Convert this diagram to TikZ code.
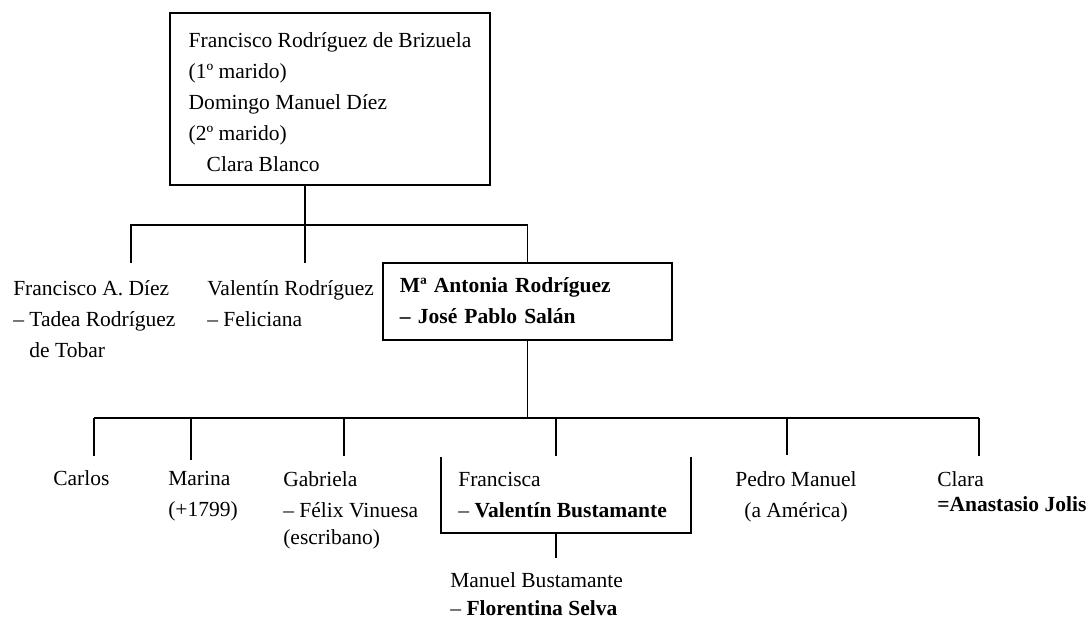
\documentclass[tikz,border=0pt]{standalone}
\usepackage{fontspec}
\setmainfont{Liberation Serif}
\usetikzlibrary{positioning}
\newcommand{\famfont}{\fontsize{15.3}{22}\selectfont}
\tikzset{
  famlink/.style={line width=0.9pt},
  famline/.style={line width=2pt},
  person/.style={anchor=north west, inner sep=0pt, align=left, font=\famfont,
    execute at begin node=\strut},
  couple/.style={draw, famlink, inner ysep=0pt, align=left,
    font=\famfont, execute at begin node=\strut, execute at end node=\strut}
}

\begin{document}
\begin{tikzpicture}[x=0.025cm, y=-0.025cm]
        \useasboundingbox (0,0) rectangle (1089,618);
        % Parents
        \node[couple, minimum width=8cm, minimum height=4.3cm] (parents) at (330,99)
          {\rule{0pt}{22pt}Francisco Rodríguez de Brizuela\\(1º marido)\\Domingo Manuel Díez\\(2º marido)\\\hspace*{0.45cm}Clara Blanco};
        % First generation
        \node[person] (fdiez) at (13,280.4) {Francisco A. Díez\\– Tadea Rodríguez\\\phantom{– }de Tobar};
        \node[person] (valentin) at (207,280.4) {Valentín Rodríguez\\– Feliciana};
        \node[couple, font=\famfont\bfseries, inner xsep=0.425cm, minimum width=7.225cm, minimum height=1.925cm, text width=6.375cm] (antonia) at (527.5,301.5)
          {Mª Antonia Rodríguez\\– José Pablo Salán};
        % Second generation
        \node[person] (carlos) at (53,463.4) {Carlos};
        \node[person] (marina) at (168,471.4) {Marina\\(+1799)};
        \node[person] (gabriela) at (283,471.4) {Gabriela\\– Félix Vinuesa\\[-3pt](escribano)};
        \node[person] (francisca) at (458,472.4) {Francisca\\– \textbf{Valentín Bustamante}};
        \node[person, anchor=north, align=center] (pedro) at (796,471.4) {Pedro Manuel\\(a América)};
        \node[person] (clara) at (937,471.4) {Clara\\[-4pt]\textbf{=Anastasio Jolis}};
        \node[person] (manuel) at (450,572.4) {Manuel Bustamante\\[-2.5pt]– \textbf{Florentina Selva}};
        % Junctions
        \coordinate (bus1) at (305,225);
        \coordinate (fdiez-in) at (131,263);
        \coordinate (valentin-in) at (305,263);
        \coordinate (bus2) at (527.5,418);
        \coordinate (carlos-in) at (94,456);
        \coordinate (marina-in) at (191,460);
        \coordinate (gabriela-in) at (344,456);
        \coordinate (francisca-in) at (556,456);
        \coordinate (pedro-in) at (787,455);
        \coordinate (clara-in) at (979,456);
        \coordinate (brk-l) at (441,457);
        \coordinate (brk-r) at (691,457);
        \coordinate (brk-s) at (556,533);
        \coordinate (manuel-in) at (556,558);
        % Lines to the children
        \draw[famlink] (parents.south -| bus1) -- (bus1);
        \draw[famlink] (fdiez-in) |- (bus1) -| (antonia.north);
        \draw[famlink] (valentin-in) -- (bus1);
        \draw[famlink] (antonia.south) -- (bus2);
        \draw[famline] (carlos-in |- bus2) -- (clara-in |- bus2);
        \foreach \k in {carlos,marina,gabriela,francisca,pedro,clara}
          \draw[famlink] (\k-in |- bus2) -- (\k-in);
        % Francisca and her son
        \draw[famlink] (brk-l) -- ++(0,76) -| (brk-r);
        \draw[famlink] (brk-s) -- (manuel-in);
    \end{tikzpicture}
\end{document}
